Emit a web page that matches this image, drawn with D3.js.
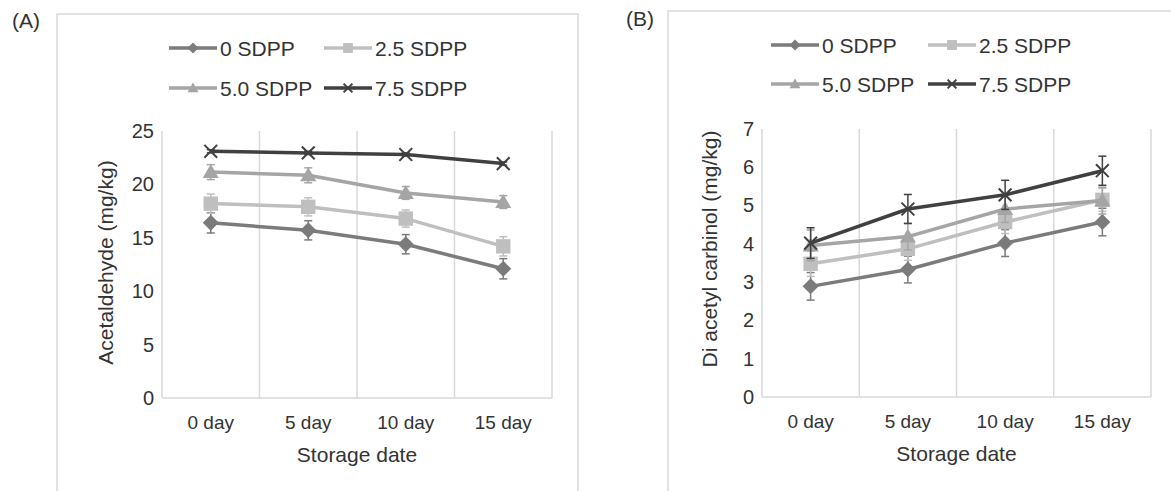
<!DOCTYPE html>
<html>
<head>
<meta charset="utf-8">
<script src="https://cdn.jsdelivr.net/npm/d3@7"></script>
<style>
  body { margin: 0; background: #fff; }
  svg { display: block; font-family: "Liberation Sans", Arial, sans-serif; }
</style>
</head>
<body>
<script>
// categories and series
const days = ['0 day', '5 day', '10 day', '15 day'];
const seriesNames = ['0 SDPP', '2.5 SDPP', '5.0 SDPP', '7.5 SDPP'];

// (A) acetaldehyde, mg/kg
const acet0 = [16.4, 15.7, 14.4, 12.1];
const acet25 = [18.2, 17.9, 16.8, 14.2];
const acet50 = [21.15, 20.85, 19.2, 18.35];
const acet75 = [23.1, 22.95, 22.8, 21.95];
const acetErr0 = [0.95, 0.9, 0.9, 0.95];
const acetErr25 = [0.9, 0.85, 0.8, 0.9];
const acetErr50 = [0.7, 0.7, 0.6, 0.6];
const acetErr75 = [0.15, 0.15, 0.15, 0.15];
const acetTicks = [0, 5, 10, 15, 20, 25];

// (B) di acetyl carbinol, mg/kg
const dac0 = [2.89, 3.33, 4.02, 4.57];
const dac25 = [3.48, 3.87, 4.57, 5.15];
const dac50 = [3.96, 4.19, 4.91, 5.13];
const dac75 = [4.02, 4.91, 5.28, 5.91];
const dacErr0 = [0.36, 0.35, 0.35, 0.36];
const dacErr25 = [0.33, 0.3, 0.3, 0.3];
const dacErr50 = [0.4, 0.35, 0.35, 0.35];
const dacErr75 = [0.4, 0.38, 0.38, 0.38];
const dacTicks = [0, 1, 2, 3, 4, 5, 6, 7];

const colors = ['#7b7b7b', '#bfbfbf', '#a5a5a5', '#404040'];
const markers = ['diamond', 'square', 'triangle', 'cross'];
const gridColor = '#d9d9d9';
const textColor = '#333';

const svg = d3.select('body').append('svg')
	.attr('width', 1171)
	.attr('height', 491);

function markerPath(type, s) {
	if (type === 'diamond') return `M0,${-s}L${s},0L0,${s}L${-s},0Z`;
	if (type === 'square') return `M${-s * 0.9},${-s * 0.9}H${s * 0.9}V${s * 0.9}H${-s * 0.9}Z`;
	if (type === 'triangle') return `M0,${-s}L${s},${s * 0.75}L${-s},${s * 0.75}Z`;
	return `M${-s * 0.8},${-s * 0.8}L${s * 0.8},${s * 0.8}M${s * 0.8},${-s * 0.8}L${-s * 0.8},${s * 0.8}`;
}

function drawMarker(g, type, color, s) {
	const p = g.append('path').attr('d', markerPath(type, s));
	if (type === 'cross') p.attr('fill', 'none').attr('stroke', color).attr('stroke-width', 2);
	else p.attr('fill', color);
}

function drawPanel(cfg) {
	const g = svg.append('g');

	// outer frame
	g.append('rect')
		.attr('x', cfg.frame[0]).attr('y', cfg.frame[1])
		.attr('width', cfg.frame[2]).attr('height', cfg.frame[3])
		.attr('fill', 'none').attr('stroke', gridColor).attr('stroke-width', 1.5);

	g.append('text')
		.attr('x', cfg.tag[0]).attr('y', cfg.tag[1])
		.attr('font-size', 21).attr('fill', textColor)
		.text(cfg.label);

	const x = d3.scaleBand().domain(days).range([cfg.left, cfg.right]);
	const y = d3.scaleLinear().domain([0, d3.max(cfg.ticks)]).range([cfg.bottom, cfg.top]);

	// vertical grid lines at category boundaries
	const bounds = d3.range(days.length + 1).map(i => cfg.left + i * x.step());
	g.selectAll('.grid').data(bounds).enter().append('line')
		.attr('x1', d => d).attr('x2', d => d)
		.attr('y1', cfg.top).attr('y2', cfg.bottom)
		.attr('stroke', gridColor).attr('stroke-width', 1.5);
	g.append('line')
		.attr('x1', cfg.left).attr('x2', cfg.right)
		.attr('y1', cfg.bottom).attr('y2', cfg.bottom)
		.attr('stroke', gridColor).attr('stroke-width', 1.5);

	// Y axis
	const yAxis = g.append('g')
		.attr('transform', `translate(${cfg.left},0)`)
		.call(d3.axisLeft(y).tickValues(cfg.ticks).tickFormat(d3.format('d')).tickSize(0).tickPadding(8));
	yAxis.select('.domain').remove();
	yAxis.selectAll('text').attr('font-size', 20).attr('fill', textColor).attr('font-family', null);

	// X axis
	const xAxis = g.append('g')
		.attr('transform', `translate(0,${cfg.bottom})`)
		.call(d3.axisBottom(x).tickSize(0).tickPadding(18));
	xAxis.select('.domain').remove();
	xAxis.selectAll('text').attr('font-size', 19).attr('fill', textColor).attr('font-family', null);

	g.append('text')
		.attr('x', (cfg.left + cfg.right) / 2).attr('y', cfg.bottom + 64)
		.attr('text-anchor', 'middle').attr('font-size', 21).attr('fill', textColor)
		.text('Storage date');

	g.append('text')
		.attr('transform', `translate(${cfg.yTitleX},${(cfg.top + cfg.bottom) / 2 + cfg.yTitleDy}) rotate(-90)`)
		.attr('text-anchor', 'middle').attr('font-size', 21).attr('fill', textColor)
		.text(cfg.yTitle);

	const line = d3.line()
		.x((d, i) => x(days[i]) + x.bandwidth() / 2)
		.y(d => y(d));

	cfg.series.forEach((vals, k) => {
		const color = colors[k];
		const errs = cfg.errors[k];
		const sg = g.append('g');

		// error bars
		vals.forEach((v, i) => {
			const cx = x(days[i]) + x.bandwidth() / 2;
			const y1 = y(v - errs[i]), y2 = y(v + errs[i]);
			sg.append('line').attr('x1', cx).attr('x2', cx).attr('y1', y1).attr('y2', y2)
				.attr('stroke', color).attr('stroke-width', 1.5);
			[y1, y2].forEach(yy => sg.append('line')
				.attr('x1', cx - 4).attr('x2', cx + 4).attr('y1', yy).attr('y2', yy)
				.attr('stroke', color).attr('stroke-width', 1.5));
		});

		sg.append('path').datum(vals)
			.attr('d', line).attr('fill', 'none')
			.attr('stroke', color).attr('stroke-width', 3.5)
			.attr('stroke-linejoin', 'round');

		vals.forEach((v, i) => {
			const m = sg.append('g').attr('transform', `translate(${x(days[i]) + x.bandwidth() / 2},${y(v)})`);
			drawMarker(m, markers[k], color, 8);
		});
	});

	// legend
	seriesNames.forEach((name, k) => {
		const col = k % 2, row = Math.floor(k / 2);
		const lx = cfg.legend[0] + col * cfg.legendColW;
		const ly = cfg.legend[1] + row * cfg.legendRowH;
		const lg = g.append('g').attr('transform', `translate(${lx},${ly})`);
		lg.append('line').attr('x1', 0).attr('x2', 48).attr('y1', 0).attr('y2', 0)
			.attr('stroke', colors[k]).attr('stroke-width', 3.5);
		const m = lg.append('g').attr('transform', 'translate(24,0)');
		drawMarker(m, markers[k], colors[k], 5.5);
		lg.append('text').attr('x', 51).attr('y', 7.5)
			.attr('font-size', 21).attr('fill', textColor)
			.text(name);
	});
}

drawPanel({
	label: '(A)', tag: [12, 28],
	frame: [57, 14, 521, 500],
	left: 162, right: 552, top: 131, bottom: 398,
	ticks: acetTicks,
	yTitle: 'Acetaldehyde (mg/kg)', yTitleX: 113, yTitleDy: -2,
	series: [acet0, acet25, acet50, acet75],
	errors: [acetErr0, acetErr25, acetErr50, acetErr75],
	legend: [169, 48], legendColW: 155, legendRowH: 40
});

drawPanel({
	label: '(B)', tag: [626, 26],
	frame: [668, 11, 520, 500],
	left: 762, right: 1151, top: 129, bottom: 397,
	ticks: dacTicks,
	yTitle: 'Di acetyl carbinol (mg/kg)', yTitleX: 717, yTitleDy: -14,
	series: [dac0, dac25, dac50, dac75],
	errors: [dacErr0, dacErr25, dacErr50, dacErr75],
	legend: [771, 45], legendColW: 157, legendRowH: 39
});
</script>
</body>
</html>
